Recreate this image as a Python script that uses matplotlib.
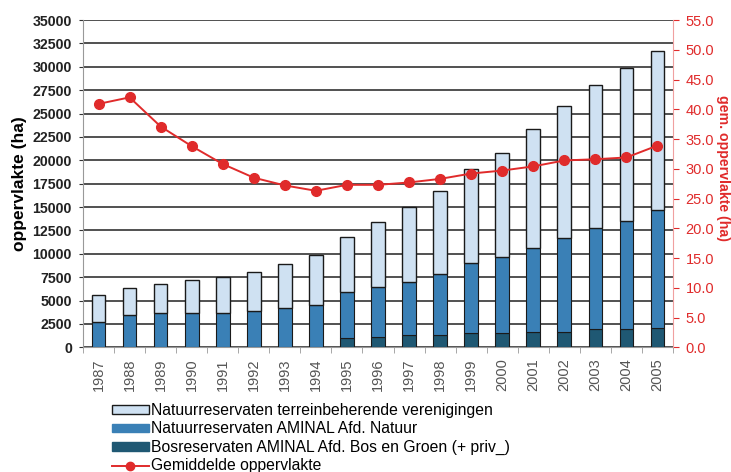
import matplotlib
matplotlib.use("Agg")
import matplotlib.pyplot as plt
import numpy as np
from matplotlib.patches import Patch
from matplotlib.lines import Line2D

plt.rcParams['font.family'] = ['Liberation Sans', 'DejaVu Sans']

years = [str(y) for y in range(1987, 2006)]

# Area per reserve type (ha)
bos = [0, 0, 0, 0, 0, 0, 0, 0, 960, 1140, 1320, 1320, 1500, 1500, 1600, 1600, 1960, 1960, 2100]
natuur_top = [2740, 3450, 3630, 3630, 3700, 3880, 4170, 4520, 5950, 6420, 7020, 7840,
              9050, 9690, 10590, 11720, 12790, 13540, 14680]
totaal = [5550, 6370, 6760, 7150, 7500, 8040, 8860, 9890, 11810, 13450, 15030, 16750,
          19070, 20780, 23340, 25840, 28050, 29830, 31710]
natuur = [t - b for t, b in zip(natuur_top, bos)]
vereniging = [t - n for t, n in zip(totaal, natuur_top)]

# Average reserve size (ha)
gemiddeld = [40.9, 42.0, 37.1, 33.8, 30.8, 28.5, 27.2, 26.3, 27.3, 27.3, 27.7, 28.3,
             29.2, 29.7, 30.4, 31.4, 31.6, 31.9, 33.9]

c_light = '#cfe1f2'
c_mid = '#3a80b6'
c_dark = '#1f5873'
c_red = '#e02b2b'

fig = plt.figure(figsize=(7.31, 4.72), dpi=100)
ax = fig.add_axes([83 / 731, 1 - 347.3 / 472, (673 - 83) / 731, (347.3 - 20) / 472])

x = np.arange(len(years))
w = 0.44
ax.bar(x, bos, w, color=c_dark, edgecolor='#1a1a1a', linewidth=0.8, zorder=3)
ax.bar(x, natuur, w, bottom=bos, color=c_mid, edgecolor='#1a1a1a', linewidth=0.8, zorder=3)
ax.bar(x, vereniging, w, bottom=natuur_top, color=c_light, edgecolor='#1a1a1a', linewidth=1.0, zorder=3)

ax.set_xlim(-0.5, len(years) - 0.5)
ax.set_ylim(0, 35000)
ax.set_yticks(np.arange(0, 35001, 2500))
ax.yaxis.grid(True, color='#222222', linewidth=1.1, zorder=0)
ax.set_axisbelow(True)
ax.tick_params(axis='y', labelsize=10.2, length=3, color='#333333', pad=5)
for lab in ax.get_yticklabels():
    lab.set_fontweight('bold')
    lab.set_color('#222222')
ax.set_ylabel('oppervlakte (ha)', fontsize=12.5, fontweight='bold', labelpad=4)

ax.set_xticks(x)
ax.set_xticklabels(years, rotation=90, fontsize=10.5, color='#555555')
ax.set_xticks(np.arange(-0.5, len(years)), minor=True)
ax.tick_params(axis='x', which='major', length=0, pad=8)
ax.tick_params(axis='x', which='minor', length=4, color='#999999')

for s in ['top', 'right']:
    ax.spines[s].set_visible(False)
ax.spines['left'].set_color('#999999')
ax.spines['bottom'].set_color('#999999')

ax2 = ax.twinx()
ax2.plot(x, gemiddeld, color=c_red, marker='o', markersize=7, linewidth=1.4, zorder=5)
ax2.set_ylim(0, 55)
ax2.set_yticks(np.arange(0, 55.1, 5))
ax2.set_yticklabels([f'{v:.1f}' for v in np.arange(0, 55.1, 5)])
ax2.tick_params(axis='y', colors=c_red, labelsize=10.5, length=4, width=0.8, pad=5)
ax2.set_ylabel('gem. oppervlakte (ha)', color=c_red, fontsize=10.2, fontweight='bold',
               rotation=270, ha='center', va='center')
ax2.yaxis.set_label_coords((723 - 83) / 590, 0.548)
for s in ['top', 'left', 'bottom']:
    ax2.spines[s].set_visible(False)
ax2.spines['right'].set_color('#f0a0a0')
ax2.spines['right'].set_linestyle((0, (2, 1)))

handles = [
    Patch(facecolor=c_light, edgecolor='#1a1a1a', linewidth=1.0),
    Patch(facecolor=c_mid, edgecolor=c_mid),
    Patch(facecolor=c_dark, edgecolor=c_dark),
    Line2D([0], [0], color=c_red, marker='o', markersize=6, linewidth=1.4),
]
labels = [
    'Natuurreservaten terreinbeherende verenigingen',
    'Natuurreservaten AMINAL Afd. Natuur',
    'Bosreservaten AMINAL Afd. Bos en Groen (+ priv_)',
    'Gemiddelde oppervlakte',
]
fig.legend(handles, labels, loc='upper left', bbox_to_anchor=(112 / 731, 1 - 403 / 472),
           frameon=False, fontsize=11.3, handlelength=2.35, handleheight=0.45,
           handletextpad=0.12, labelspacing=0.22, borderaxespad=0, borderpad=0)

fig.savefig('out.png', dpi=100)
